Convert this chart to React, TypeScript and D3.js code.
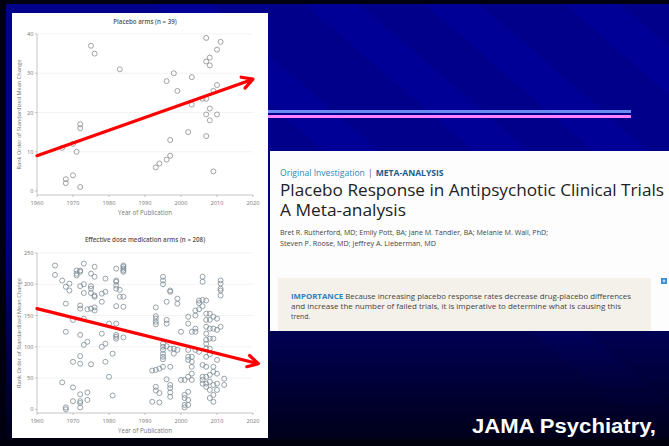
import React from 'react';
import * as d3 from 'd3';

// ---------- DATA ----------
const xTicks = [1960, 1970, 1980, 1990, 2000, 2010, 2020];
const placeboYTicks = [0, 10, 20, 30, 40];
const medYTicks = [0, 50, 100, 150, 200, 250];

const placeboYears = [1975, 1976, 1983, 1967, 1970, 1971, 1972, 1972, 1970, 1968, 1968, 1972, 1993, 1994, 1996, 1997, 1997, 1996, 1998, 1999, 2003, 2003, 2002, 2007, 2007, 2008, 2008, 2010, 2011, 2010, 2009, 2007, 2006, 2008, 2007, 2010, 2008, 2007, 2009];
const placeboRanks = [37, 35, 31, 11, 12, 10, 17, 16, 4, 3, 2, 1, 6, 7, 8, 9, 13, 28, 30, 25.5, 29, 22, 15, 39, 33, 34, 32, 36, 38, 27, 25.5, 23.5, 23.5, 21, 19.5, 19.5, 18, 14, 5];

const medArms: [number, number[]][] = [
  [1965, [230, 215]],
  [1967, [206, 43]],
  [1968, [196, 169, 124, 3, 0]],
  [1969, [201, 190]],
  [1970, [143, 76, 35, 13]],
  [1971, [222, 217, 214]],
  [1972, [222, 220, 197, 166, 161, 119, 85, 73, 24, 13, 10, 3]],
  [1973, [233, 200, 186, 145, 103]],
  [1974, [160, 108, 27, 15]],
  [1975, [217, 197, 193, 186, 161, 72]],
  [1976, [228, 212, 182, 180, 163, 158]],
  [1978, [185, 172, 121, 100]],
  [1979, [209, 188, 105, 76]],
  [1980, [137, 52]],
  [1981, [89, 22]],
  [1982, [225, 206, 204, 198, 193, 165, 137, 119, 116, 113]],
  [1983, [191, 180]],
  [1984, [230, 228, 225, 222, 220, 180, 164, 115]],
  [1992, [62, 12]],
  [1993, [163, 149, 145, 140, 136, 63, 36, 30]],
  [1994, [65, 26, 11]],
  [1995, [212, 206, 200, 105, 100, 95, 89, 84, 68, 80]],
  [1996, [172, 143, 137, 48, 101]],
  [1997, [190, 188, 97, 68, 39, 34, 27, 20]],
  [1998, [89, 97]],
  [1999, [177, 169, 95]],
  [2000, [124, 47]],
  [2001, [47, 23, 7, 3, 18]],
  [2002, [148, 137, 95, 84, 79, 52, 28, 15, 7]],
  [2003, [124, 84, 76, 68, 57, 47]],
  [2004, [158, 150, 129, 124, 95]],
  [2005, [174, 170, 92, 160]],
  [2006, [212, 204, 71, 52, 47, 41, 175, 165]],
  [2007, [174, 153, 143, 132, 121, 111, 97, 84, 68, 52, 41, 36, 105]],
  [2008, [153, 143, 129, 113, 97, 55, 44, 31, 18, 88]],
  [2009, [148, 129, 113, 68, 60, 39, 12, 23]],
  [2010, [145, 127, 79, 57, 41, 31]],
  [2011, [206, 201, 193, 190, 182, 132]],
  [2012, [49, 39]],
];

const placeboTrend: [number, number][] = [[1960, 9], [2020, 28.5]];
const medTrend: [number, number][] = [[1960, 161], [2021.5, 73]];

const placeboTitle = 'Placebo arms (n = 39)';
const medTitle = 'Effective dose medication arms (n = 208)';
const yLabel = 'Rank Order of Standardized Mean Change';
const xLabel = 'Year of Publication';

const articleKicker1 = 'Original Investigation';
const articleKicker2 = 'META-ANALYSIS';
const articleTitle1 = 'Placebo Response in Antipsychotic Clinical Trials';
const articleTitle2 = 'A Meta-analysis';
const authors1 = 'Bret R. Rutherford, MD; Emily Pott, BA; Jane M. Tandler, BA; Melanie M. Wall, PhD;';
const authors2 = 'Steven P. Roose, MD; Jeffrey A. Lieberman, MD';
const importanceHead = 'IMPORTANCE';
const importance1 = 'Because increasing placebo response rates decrease drug-placebo differences';
const importance2 = 'and increase the number of failed trials, it is imperative to determine what is causing this';
const importance3 = 'trend.';
const sourceText = 'JAMA Psychiatry,';

// ---------- COMPONENTS ----------
const W = 669, H = 446;
const FONT = '"Open Sans", "DejaVu Sans", sans-serif';

function Arrow({ pts, x, y }: { pts: [number, number][]; x: any; y: any }) {
  const x1 = x(pts[0][0]), y1 = y(pts[0][1]);
  const x2 = x(pts[1][0]), y2 = y(pts[1][1]);
  const a = Math.atan2(y2 - y1, x2 - x1);
  const L = 12, sp = 0.5;
  const h1 = [x2 - L * Math.cos(a - sp), y2 - L * Math.sin(a - sp)];
  const h2 = [x2 - L * Math.cos(a + sp), y2 - L * Math.sin(a + sp)];
  return (
    <g stroke="#ff0000" strokeWidth={3.2} strokeLinecap="round" strokeLinejoin="round" fill="none">
      <line x1={x1} y1={y1} x2={x2 - 1.5 * Math.cos(a)} y2={y2 - 1.5 * Math.sin(a)} />
      <polyline points={`${h1[0]},${h1[1]} ${x2},${y2} ${h2[0]},${h2[1]}`} />
    </g>
  );
}

function Scatter({ title, titleY, yTicks, yScale, axisY, xs, ys, trend, stroke }: any) {
  const x = d3.scaleLinear().domain([1960, 2020]).range([37, 253]);
  const top = yScale(yTicks[yTicks.length - 1]);
  return (
    <g fontFamily={FONT}>
      <text x={145} y={titleY} textAnchor="middle" fontSize={6.2} fill="#555" fontWeight={600}>{title}</text>
      {yTicks.map((t: number) => (
        <g key={t}>
          {t > 0 && <line x1={37} x2={253} y1={yScale(t)} y2={yScale(t)} stroke="#ececec" strokeWidth={0.7} />}
          <line x1={35} x2={37} y1={yScale(t)} y2={yScale(t)} stroke="#aaa" strokeWidth={0.7} />
          <text x={33.5} y={yScale(t) + 2} textAnchor="end" fontSize={5.6} fill="#777">{t}</text>
        </g>
      ))}
      <line x1={37} x2={37} y1={top} y2={axisY} stroke="#b5b5b5" strokeWidth={0.8} />
      <line x1={37} x2={253} y1={axisY} y2={axisY} stroke="#b5b5b5" strokeWidth={0.8} />
      {xTicks.map((t) => (
        <g key={t}>
          <line x1={x(t)} x2={x(t)} y1={axisY} y2={axisY + 2} stroke="#aaa" strokeWidth={0.7} />
          <text x={x(t)} y={axisY + 10} textAnchor="middle" fontSize={5.6} fill="#777">{t}</text>
        </g>
      ))}
      <text x={145} y={axisY + 20} textAnchor="middle" fontSize={6.2} fill="#777">{xLabel}</text>
      <text transform={`translate(21,${(top + axisY) / 2}) rotate(-90)`} textAnchor="middle" fontSize={5.6} fill="#777">{yLabel}</text>
      {xs.map((yr: number, i: number) => (
        <circle key={i} cx={x(yr)} cy={yScale(ys[i])} r={2.5} fill="none" stroke={stroke} strokeWidth={0.8} />
      ))}
      <Arrow pts={trend} x={x} y={yScale} />
    </g>
  );
}

export default function App() {
  const yP = d3.scaleLinear().domain([0, 40]).range([191, 34]);
  const yM = d3.scaleLinear().domain([0, 250]).range([409.3, 253]);
  const medYears = medArms.flatMap(([yr, rs]) => rs.map(() => yr));
  const medRanks = medArms.flatMap(([, rs]) => rs);

  const stripeOffsets = [150, 300, 420, 560];
  const slope = 1.15;

  return (
    <svg width={W} height={H} style={{ position: 'absolute', left: 0, top: 0, display: 'block' }}>
      <defs>
        <linearGradient id="fade" x1="0" y1="0" x2="0" y2="1">
          <stop offset="0" stopColor="#000010" stopOpacity={0} />
          <stop offset="1" stopColor="#000010" stopOpacity={0.95} />
        </linearGradient>
        <clipPath id="bgclip"><rect x={0} y={0} width={W} height={H} /></clipPath>
      </defs>
      {/* background */}
      <rect x={0} y={0} width={W} height={H} fill="#00008a" />
      <g clipPath="url(#bgclip)">
        {stripeOffsets.map((o, i) => (
          <polygon key={i} points={`${o},0 ${o + 55},0 ${o + 55 + slope * H},${H} ${o + slope * H},${H}`} fill="#0000a2" opacity={0.55} />
        ))}
      </g>
      <rect x={0} y={230} width={W} height={H - 230} fill="url(#fade)" />
      <rect x={0} y={0} width={W} height={4} fill="#000010" />
      <rect x={0} y={0} width={6} height={H} fill="#000010" />
      <rect x={0} y={439} width={W} height={7} fill="#00000c" />

      {/* decorative lines */}
      <rect x={267} y={110} width={364} height={3} fill="#6a8cf2" />
      <rect x={267} y={115} width={364} height={3} fill="#ff80ff" />

      {/* chart panel */}
      <rect x={12} y={13} width={256} height={425} fill="#ffffff" />
      <Scatter title={placeboTitle} titleY={24} yTicks={placeboYTicks} yScale={yP} axisY={195}
        xs={placeboYears} ys={placeboRanks} trend={placeboTrend} stroke="#8c8c8c" />
      <Scatter title={medTitle} titleY={242} yTicks={medYTicks} yScale={yM} axisY={413}
        xs={medYears} ys={medRanks} trend={medTrend} stroke="#7d8c94" />

      {/* article panel */}
      <g fontFamily={FONT}>
        <rect x={270} y={151} width={399} height={180} fill="#fdfdfd" />
        <text x={280} y={176} fontSize={8.6}>
          <tspan fill="#2a8ab8">{articleKicker1}</tspan>
          <tspan fill="#555" dx={3}>|</tspan>
          <tspan fill="#1b5d8c" fontWeight={700} dx={3}>{articleKicker2}</tspan>
        </text>
        <text x={280} y={196} fontSize={17} fontWeight={500} fill="#222" textLength={384} lengthAdjust="spacingAndGlyphs">{articleTitle1}</text>
        <text x={280} y={216} fontSize={17} fontWeight={500} fill="#222" textLength={126} lengthAdjust="spacingAndGlyphs">{articleTitle2}</text>
        <text x={280} y={235} fontSize={6.4} fill="#444" textLength={268} lengthAdjust="spacingAndGlyphs">{authors1}</text>
        <text x={280} y={246} fontSize={6.4} fill="#444" textLength={156} lengthAdjust="spacingAndGlyphs">{authors2}</text>
        <rect x={278} y={278} width={373} height={53} fill="#f4f1ea" />
        <text x={291} y={299} fontSize={6.8} fill="#444" textLength={340} lengthAdjust="spacingAndGlyphs">
          <tspan fill="#2e7fc0" fontWeight={700}>{importanceHead}</tspan> {importance1}
        </text>
        <text x={291} y={309} fontSize={6.8} fill="#444" textLength={330} lengthAdjust="spacingAndGlyphs">{importance2}</text>
        <text x={291} y={319} fontSize={6.8} fill="#444">{importance3}</text>
        <rect x={661} y={278} width={6} height={6} fill="#3a8fd6" />
        <path d="M662.5,281 h3 M664,279.5 v3" stroke="#fff" strokeWidth={0.8} />
      </g>

      <text x={472} y={433} fontFamily='"Liberation Sans", Arial, sans-serif' fontWeight={700} fontSize={20} fill="#ffffff" textLength={184} lengthAdjust="spacingAndGlyphs">{sourceText}</text>
    </svg>
  );
}
